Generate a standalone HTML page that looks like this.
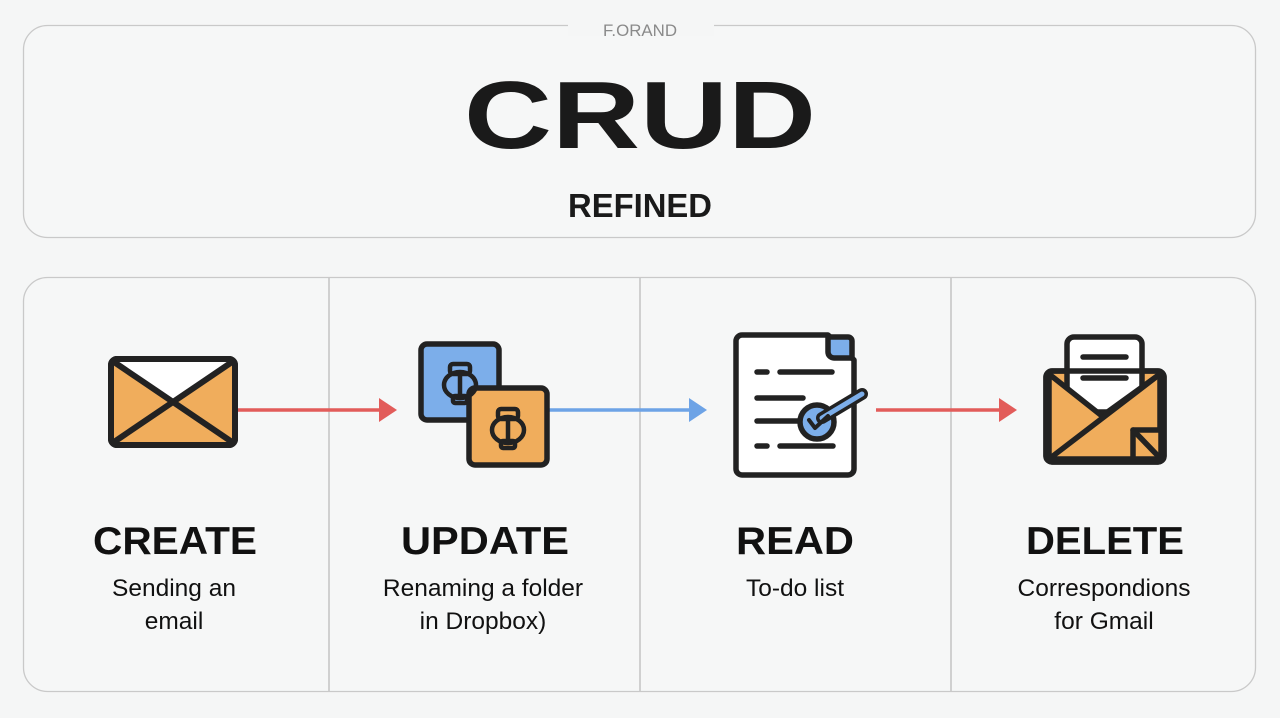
<!DOCTYPE html>
<html><head><meta charset="utf-8"><style>
html,body{margin:0;padding:0;background:#f5f6f6;}
svg{display:block}
text{font-family:"Liberation Sans",Arial,sans-serif;fill:#111;}
</style></head><body>
<svg width="1280" height="718" viewBox="0 0 1280 718" xmlns="http://www.w3.org/2000/svg">
<rect width="1280" height="718" fill="#f5f6f6"/>
<rect x="23.5" y="25.5" width="1232" height="212" rx="24" fill="#f6f7f7" stroke="#c9c9c9" stroke-width="1.3"/>
<rect x="568" y="18" width="146" height="18" fill="#f5f6f6"/>
<text x="640" y="36" text-anchor="middle" font-size="17" style="fill:#8a8a8a" textLength="74" lengthAdjust="spacingAndGlyphs">F.ORAND</text>
<text x="640" y="148" text-anchor="middle" font-size="96" font-weight="bold" style="fill:#1a1a1a" textLength="352" lengthAdjust="spacingAndGlyphs">CRUD</text>
<text x="640" y="217" text-anchor="middle" font-size="33" font-weight="bold" style="fill:#1a1a1a" textLength="144" lengthAdjust="spacingAndGlyphs">REFINED</text>
<rect x="23.5" y="277.5" width="1232" height="414" rx="24" fill="#f6f7f7" stroke="#c9c9c9" stroke-width="1.3"/>
<line x1="329" y1="278" x2="329" y2="691" stroke="#c4c4c4" stroke-width="1.5"/>
<line x1="640" y1="278" x2="640" y2="691" stroke="#c4c4c4" stroke-width="1.5"/>
<line x1="951" y1="278" x2="951" y2="691" stroke="#c4c4c4" stroke-width="1.5"/>
<line x1="237" y1="410" x2="382" y2="410" stroke="#e25c5a" stroke-width="3.5"/>
<polygon points="379,398 397,410 379,422" fill="#e25c5a"/>
<line x1="548" y1="410" x2="692" y2="410" stroke="#6da3e6" stroke-width="3.5"/>
<polygon points="689,398 707,410 689,422" fill="#6da3e6"/>
<line x1="876" y1="410" x2="1002" y2="410" stroke="#e25c5a" stroke-width="3.5"/>
<polygon points="999,398 1017,410 999,422" fill="#e25c5a"/>
<g stroke="#222" stroke-width="6" stroke-linejoin="round">
<rect x="111" y="359" width="124" height="86" rx="6" fill="#f0ad5c"/>
<polygon points="114,362 232,362 173,400" fill="#fff" stroke="none"/>
<line x1="114" y1="362" x2="232" y2="442"/>
<line x1="232" y1="362" x2="114" y2="442"/>
<rect x="111" y="359" width="124" height="86" rx="6" fill="none"/>
</g>
<g stroke="#222" stroke-width="5.5" stroke-linejoin="round">
<rect x="421" y="344" width="78" height="76" rx="6" fill="#7caeea"/>
<rect x="469" y="388" width="78" height="77" rx="6" fill="#f0ad5c"/>
<g fill="none" stroke-width="4.5">
<rect x="450" y="364" width="20" height="10" rx="3"/><ellipse cx="460" cy="385" rx="16" ry="13"/><line x1="460" y1="373" x2="460" y2="398"/><rect x="453" y="396" width="14" height="7" rx="2"/>
<rect x="498" y="409" width="20" height="10" rx="3"/><ellipse cx="508" cy="430" rx="16" ry="13"/><line x1="508" y1="418" x2="508" y2="443"/><rect x="501" y="441" width="14" height="7" rx="2"/>
</g>
</g>
<g stroke="#222" stroke-width="5.5" stroke-linejoin="round" stroke-linecap="round">
<path d="M742,335 H828 L854,360 V469 a6,6 0 0 1 -6,6 H742 a6,6 0 0 1 -6,-6 V341 a6,6 0 0 1 6,-6 Z" fill="#fff"/>
<path d="M828,337 V352 a6,6 0 0 0 6,6 H852 V341 a4,4 0 0 0 -4,-4 Z" fill="#7caeea"/>
<line x1="757" y1="372" x2="767" y2="372"/><line x1="780" y1="372" x2="832" y2="372"/>
<line x1="757" y1="398" x2="803" y2="398"/>
<line x1="757" y1="421" x2="803" y2="421"/>
<line x1="757" y1="446" x2="767" y2="446"/><line x1="780" y1="446" x2="833" y2="446"/>
<circle cx="817" cy="422" r="17" fill="#7caeea"/>
<path d="M822,418 L862,394" fill="none" stroke-width="12"/>
<path d="M822,418 L862,394" fill="none" stroke="#7caeea" stroke-width="5"/>
<path d="M809,420 L815,428 L828,416" fill="none" stroke="#222" stroke-width="4"/>
</g>
<g stroke="#222" stroke-width="5.5" stroke-linejoin="round" stroke-linecap="round">
<rect x="1046" y="371" width="118" height="91" rx="6" fill="#f0ad5c"/>
<rect x="1067" y="337" width="75" height="75" rx="7" fill="#fff"/>
<line x1="1083" y1="357" x2="1126" y2="357"/><line x1="1083" y1="378" x2="1126" y2="378"/>
<polygon points="1049,374 1102,416 1160,374 1160,459 1049,459" fill="#f0ad5c"/>
<line x1="1160" y1="374" x2="1049" y2="459"/>
<path d="M1133,430 H1161 V459 H1133 Z" fill="#f0ad5c"/>
<line x1="1133" y1="430" x2="1161" y2="459"/>
<rect x="1046" y="371" width="118" height="91" rx="6" fill="none"/>
</g>
<g font-weight="bold" font-size="39">
<text x="175" y="554" text-anchor="middle" textLength="164" lengthAdjust="spacingAndGlyphs">CREATE</text>
<text x="485" y="554" text-anchor="middle" textLength="168" lengthAdjust="spacingAndGlyphs">UPDATE</text>
<text x="795" y="554" text-anchor="middle" textLength="118" lengthAdjust="spacingAndGlyphs">READ</text>
<text x="1105" y="554" text-anchor="middle" textLength="158" lengthAdjust="spacingAndGlyphs">DELETE</text>
</g>
<g font-size="24.5">
<text x="174" y="596" text-anchor="middle">Sending an</text>
<text x="174" y="629" text-anchor="middle">email</text>
<text x="483" y="596" text-anchor="middle">Renaming a folder</text>
<text x="483" y="629" text-anchor="middle">in Dropbox)</text>
<text x="795" y="596" text-anchor="middle">To-do list</text>
<text x="1104" y="596" text-anchor="middle">Correspondions</text>
<text x="1104" y="629" text-anchor="middle">for Gmail</text>
</g>
</svg>
</body></html>
